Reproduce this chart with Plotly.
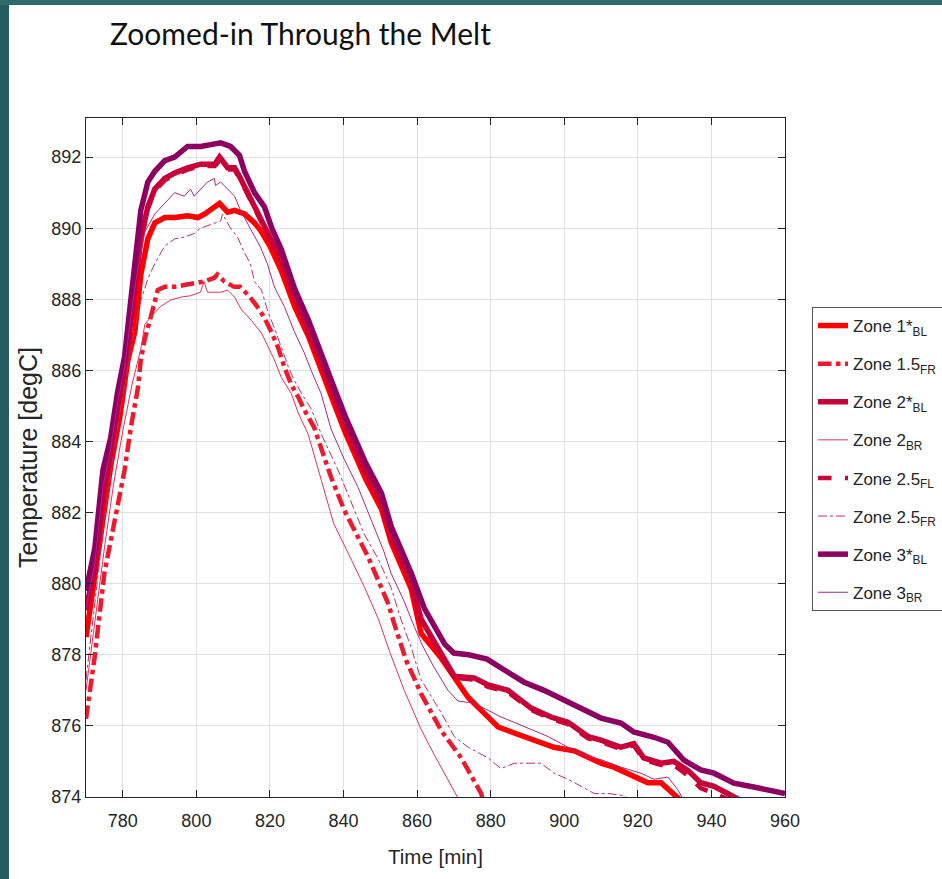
import plotly.graph_objects as go

# ---------------- data ----------------
t_z1 = [770, 772.4, 774.6, 776.7, 779.2, 781.4, 783.3, 784.9, 786.8, 788.7, 791.4, 794.1, 797.6, 800.4,
        802.3, 805.0, 806.3, 808.5, 810.4, 813.1, 815.8, 817.4, 820.0, 823.1, 826.7, 830.5, 834.0, 837.5,
        840.5, 843.0, 846.0, 850.3, 853.0, 858.4, 861.1, 866.6, 870.1, 873.9, 878.2, 882.0, 886.4, 891.8,
        897.2, 902.7, 906.5, 910.0, 913.5, 918.9, 922.7, 926.3, 929.8, 931.7]
y_z1 = [878.5, 880.3, 881.8, 883.3, 884.7, 886.3, 887.1, 888.7, 889.7, 890.15, 890.3, 890.3, 890.35, 890.3,
        890.4, 890.6, 890.7, 890.45, 890.5, 890.4, 890.15, 889.95, 889.5, 888.8, 887.8, 886.95, 886.05, 885.05,
        884.25, 883.65, 882.95, 882.1, 881.15, 879.85, 878.6, 877.9, 877.4, 876.8, 876.36, 875.97, 875.8, 875.6,
        875.4, 875.3, 875.1, 874.95, 874.84, 874.56, 874.4, 874.4, 874.1, 873.9]

t_z15 = [770, 772.3, 775.0, 777.7, 780.5, 782.2, 784.1, 784.9, 786.0, 787.6, 789.5, 791.4, 794.1, 796.7,
         799.4, 802.1, 804.8, 805.7, 807.6, 810.3, 811.9, 814.6, 816.5, 818.4, 820.3, 822.2, 823.9, 825.8,
         827.7, 829.3, 832.0, 833.9, 836.6, 840.2, 844.0, 846.7, 849.4, 852.1, 853.7, 855.6, 857.0, 861.1,
         866.6, 872.0, 877.4, 878.0]
y_z15 = [876.2, 877.9, 880.3, 881.8, 883.2, 884.4, 885.5, 886.3, 886.9, 887.5, 888.26, 888.35, 888.35, 888.4,
         888.45, 888.5, 888.6, 888.7, 888.5, 888.35, 888.35, 888.06, 887.8, 887.5, 887.1, 886.65, 886.1, 885.6,
         885.25, 884.9, 884.4, 883.8, 883.0, 882.07, 881.3, 880.75, 880.1, 879.45, 878.9, 878.33, 877.85, 876.9,
         875.86, 875.1, 874.1, 873.9]

t_z2 = [770, 772.4, 774.6, 776.7, 778.6, 780.5, 782.2, 783.5, 784.9, 786.8, 788.7, 791.4, 794.1, 797.6,
        801.2, 805.0, 806.3, 808.5, 810.4, 812.0, 813.9, 816.6, 819.3, 823.1, 826.7, 830.5, 834.0, 837.5,
        840.5, 843.0, 846.0, 850.3, 853.0, 858.4, 861.1, 866.6, 870.1, 875.5, 879.3, 884.7, 891.0, 896.4,
        901.0, 906.5, 910.0, 915.4, 918.9, 921.6, 926.3, 929.8, 933.6, 937.1, 940.7, 944.4, 946.6, 948.0]
y_z2 = [879.3, 880.4, 882.5, 883.6, 885.0, 886.0, 887.4, 888.6, 889.7, 890.6, 891.1, 891.4, 891.55, 891.7,
        891.8, 891.8, 892.0, 891.7, 891.7, 891.4, 891.0, 890.4, 889.9, 889.1, 888.05, 887.15, 886.25, 885.25,
        884.45, 883.85, 883.15, 882.3, 881.35, 880.05, 879.0, 878.05, 877.4, 877.35, 877.15, 877.0, 876.5, 876.25,
        876.1, 875.7, 875.6, 875.4, 875.5, 875.1, 874.95, 875.0, 874.75, 874.4, 874.3, 874.1, 874.0, 873.9]

t_z2br = [770, 772.5, 775.0, 777.5, 780.0, 782.5, 784.9, 786.0, 787.6, 790.3, 793.0, 795.7, 798.4, 801.1,
          802.1, 803.0, 806.6, 808.5, 810.4, 812.3, 815.0, 817.7, 819.6, 821.2, 823.1, 825.8, 827.7, 830.4,
          834.0, 837.3, 842.2, 845.7, 849.5, 852.5, 856.5, 861.1, 864.6, 868.4, 871.1, 872.0]
y_z2br = [877.0, 879.0, 881.0, 882.8, 884.3, 885.6, 886.6, 887.3, 887.5, 887.8, 887.98, 888.06, 888.1, 888.2,
          888.5, 888.2, 888.2, 888.26, 888.06, 887.7, 887.4, 887.05, 886.65, 886.3, 885.8, 885.35, 884.8, 884.2,
          882.9, 881.7, 880.66, 879.9, 879.0, 878.1, 877.0, 875.9, 875.2, 874.5, 874.0, 873.8]

t_z25fl = [770, 772.4, 774.6, 776.7, 778.6, 780.5, 782.2, 783.5, 784.9, 786.8, 788.7, 791.4, 794.1, 797.6,
           801.2, 805.0, 806.3, 808.5, 810.4, 812.0, 813.9, 816.6, 819.3, 823.1, 826.7, 830.5, 834.0, 837.5,
           840.5, 843.0, 846.0, 850.3, 853.0, 858.4, 861.1, 866.6, 870.1, 875.5, 879.3, 884.7, 891.0, 896.4,
           901.0, 906.5, 910.0, 915.4, 918.9, 921.6, 926.3, 929.8, 933.6, 937.1, 940.7, 944.4, 946.6, 948.0]
y_z25fl = [879.25, 880.35, 882.45, 883.55, 884.95, 885.95, 887.35, 888.55, 889.65, 890.55, 891.05, 891.35, 891.5, 891.65,
           891.75, 891.75, 891.9, 891.65, 891.65, 891.35, 890.95, 890.35, 889.85, 889.05, 888.0, 887.1, 886.2, 885.2,
           884.4, 883.8, 883.1, 882.25, 881.3, 880.0, 878.95, 878.0, 877.35, 877.3, 877.1, 876.95, 876.45, 876.2,
           876.05, 875.65, 875.55, 875.35, 875.45, 875.05, 874.9, 874.9, 874.6, 874.25, 874.1, 873.95, 873.85, 873.75]

t_z25fr = [770, 772.5, 775.0, 777.5, 780.0, 782.5, 785.0, 786.9, 788.7, 791.4, 794.1, 796.7, 799.4, 801.1,
           803.8, 806.6, 807.1, 809.3, 811.2, 813.1, 814.7, 815.8, 817.7, 819.6, 821.2, 823.1, 825.0, 826.7,
           828.6, 831.3, 834.0, 838.5, 842.0, 845.6, 849.4, 852.9, 855.6, 858.4, 861.1, 866.6, 870.1, 873.9,
           879.3, 882.8, 886.4, 890.2, 893.7, 897.2, 901.0, 904.6, 908.1, 911.9, 915.4, 918.0]
y_z25fr = [877.3, 879.6, 881.8, 883.7, 885.3, 886.8, 888.0, 888.6, 889.0, 889.5, 889.7, 889.75, 889.85, 890.0,
           890.1, 890.2, 890.4, 890.0, 889.75, 889.3, 889.0, 888.5, 888.26, 887.6, 887.2, 886.65, 886.1, 885.7,
           885.35, 884.9, 884.2, 883.2, 882.3, 881.4, 880.7, 879.9, 879.0, 878.2, 877.3, 876.36, 875.7, 875.4,
           875.1, 874.8, 874.95, 874.95, 874.95, 874.67, 874.5, 874.3, 874.1, 874.1, 874.05, 873.95]

t_z3 = [770, 772.4, 774.6, 776.7, 778.6, 780.5, 782.2, 783.5, 784.9, 786.8, 788.7, 791.4, 794.1, 797.6,
        801.2, 803.9, 806.6, 809.3, 811.7, 813.1, 815.8, 818.5, 820.5, 823.1, 826.7, 830.5, 834.0, 837.5,
        840.5, 843.0, 846.0, 850.3, 853.0, 858.4, 862.0, 867.5, 870.0, 874.0, 879.0, 884.7, 889.1, 894.5,
        899.9, 904.6, 910.0, 915.4, 918.9, 924.4, 928.2, 932.5, 937.1, 940.7, 946.1, 951.5, 956.9, 960.0]
y_z3 = [879.8, 881.0, 883.2, 884.1, 885.4, 886.4, 888.0, 889.3, 890.5, 891.3, 891.6, 891.9, 892.0, 892.3,
        892.3, 892.35, 892.4, 892.3, 892.05, 891.6, 891.0, 890.6, 890.0, 889.4, 888.3, 887.4, 886.5, 885.5,
        884.7, 884.1, 883.4, 882.55, 881.6, 880.3, 879.3, 878.3, 878.05, 878.0, 877.88, 877.51, 877.23, 877.0,
        876.73, 876.53, 876.22, 876.08, 875.83, 875.68, 875.54, 875.04, 874.76, 874.67, 874.39, 874.28, 874.19, 874.1]

t_z3br = [770, 772.4, 774.6, 776.7, 778.6, 780.5, 782.2, 783.5, 786.0, 788.7, 791.4, 794.1, 796.7, 798.4,
          799.4, 801.1, 803.0, 804.9, 805.2, 806.6, 808.5, 810.4, 812.0, 813.9, 815.8, 817.4, 819.3, 821.2,
          823.9, 826.6, 829.3, 831.2, 833.9, 836.6, 840.2, 844.0, 847.5, 851.0, 852.9, 856.5, 859.2, 861.5,
          864.6, 868.4, 871.1, 875.5, 879.3, 882.8, 886.4, 891.0, 895.6, 899.2, 904.6, 910.0, 915.4, 920.8,
          924.4, 928.2, 930.9, 932.5]
y_z3br = [879.3, 880.6, 882.7, 883.8, 885.1, 886.1, 887.5, 888.5, 889.9, 890.4, 890.7, 891.0, 890.9, 891.1,
          890.9, 891.1, 891.3, 891.4, 891.2, 891.3, 891.1, 890.9, 890.5, 890.14, 889.75, 889.47, 889.0, 888.35,
          887.8, 887.1, 886.5, 886.0, 885.35, 884.35, 883.5, 882.7, 881.8, 880.9, 880.3, 879.5, 878.8, 878.25,
          877.65, 877.0, 876.7, 876.64, 876.44, 876.25, 876.1, 875.9, 875.7, 875.5, 875.2, 875.05, 874.84, 874.67,
          874.5, 874.56, 874.2, 873.9]

x_ticks = [780, 800, 820, 840, 860, 880, 900, 920, 940, 960]
y_ticks = [874, 876, 878, 880, 882, 884, 886, 888, 890, 892]

# (legend name, x, y, colour, width, dash, legend rank); list order = drawing order
series = [
    ("Zone 1*<sub>BL</sub>", t_z1, y_z1, "#ff0000", 5.5, "solid", 1),
    ("Zone 1.5<sub>FR</sub>", t_z15, y_z15, "#ec1a2e", 4.5, "dashdot", 2),
    ("Zone 2.5<sub>FL</sub>", t_z25fl, y_z25fl, "#c8033c", 4.5, "dash", 5),
    ("Zone 2*<sub>BL</sub>", t_z2, y_z2, "#c8003a", 5.5, "solid", 3),
    ("Zone 2<sub>BR</sub>", t_z2br, y_z2br, "#d8355e", 1.0, "solid", 4),
    ("Zone 2.5<sub>FR</sub>", t_z25fr, y_z25fr, "#b8306a", 1.0, "dashdot", 6),
    ("Zone 3*<sub>BL</sub>", t_z3, y_z3, "#8c0062", 5.5, "solid", 7),
    ("Zone 3<sub>BR</sub>", t_z3br, y_z3br, "#a6288a", 1.0, "solid", 8),
]

fig = go.Figure()
for name, t, y, col, w, dash, rank in series:
    fig.add_trace(go.Scatter(x=t, y=y, mode="lines", name=name, legendgroup="g%d" % rank,
                             legendrank=rank,
                             line=dict(color=col, width=w, dash=dash)))

W, H = 942, 879
L, R, T, B = 86, 157, 118, 82
pw, ph = W - L - R, H - T - B


def px_x(p):
    return (p - L) / pw


def px_y(p):
    return (H - B - p) / ph


FONT = "Liberation Sans, Arial, Helvetica, sans-serif"
tick_font = dict(family=FONT, size=18, color="#262626")
axis_common = dict(showline=True, linecolor="#262626", linewidth=1.3, mirror="ticks",
                   ticks="inside", ticklen=7, tickwidth=1, tickcolor="#262626",
                   showgrid=True, gridcolor="#e0e0e0", gridwidth=1, zeroline=False,
                   tickfont=tick_font)

fig.update_xaxes(range=[770, 960], tickvals=x_ticks, ticktext=[str(v) for v in x_ticks],
                 ticklabelstandoff=7,
                 title=dict(text="Time [min]", font=dict(family=FONT, size=20.5, color="#262626"),
                            standoff=19),
                 **axis_common)
fig.update_yaxes(range=[874, 893.1], tickvals=y_ticks, ticktext=[str(v) for v in y_ticks],
                 title=dict(text="Temperature [degC]", font=dict(family=FONT, size=25, color="#262626"),
                            standoff=6),
                 **axis_common)

shapes = [
    # teal slide border (left and top)
    dict(type="rect", xref="paper", yref="paper", x0=px_x(0), x1=px_x(9), y0=px_y(H), y1=px_y(0),
         fillcolor="#255c60", line=dict(width=0), layer="above"),
    dict(type="rect", xref="paper", yref="paper", x0=px_x(0), x1=px_x(W), y0=px_y(5), y1=px_y(0),
         fillcolor="#2f6b6b", line=dict(width=0), layer="above"),
]

fig.update_layout(
    width=W, height=H,
    margin=dict(l=L, r=R, t=T, b=B, autoexpand=False),
    paper_bgcolor="white", plot_bgcolor="white",
    showlegend=True,
    legend=dict(x=px_x(812), y=px_y(307), xanchor="left", yanchor="top",
                bordercolor="#555555", borderwidth=1, bgcolor="white",
                font=dict(family=FONT, size=17, color="#262626"),
                traceorder="grouped", tracegroupgap=13, itemwidth=30),
    shapes=shapes,
    annotations=[dict(text="Zoomed-in Through the Melt", xref="paper", yref="paper",
                      x=px_x(108), y=px_y(33), xanchor="left", yanchor="middle", showarrow=False,
                      font=dict(family="Lato, Open Sans, sans-serif", size=30, color="#111111"))],
)

fig.write_html("out.html")
